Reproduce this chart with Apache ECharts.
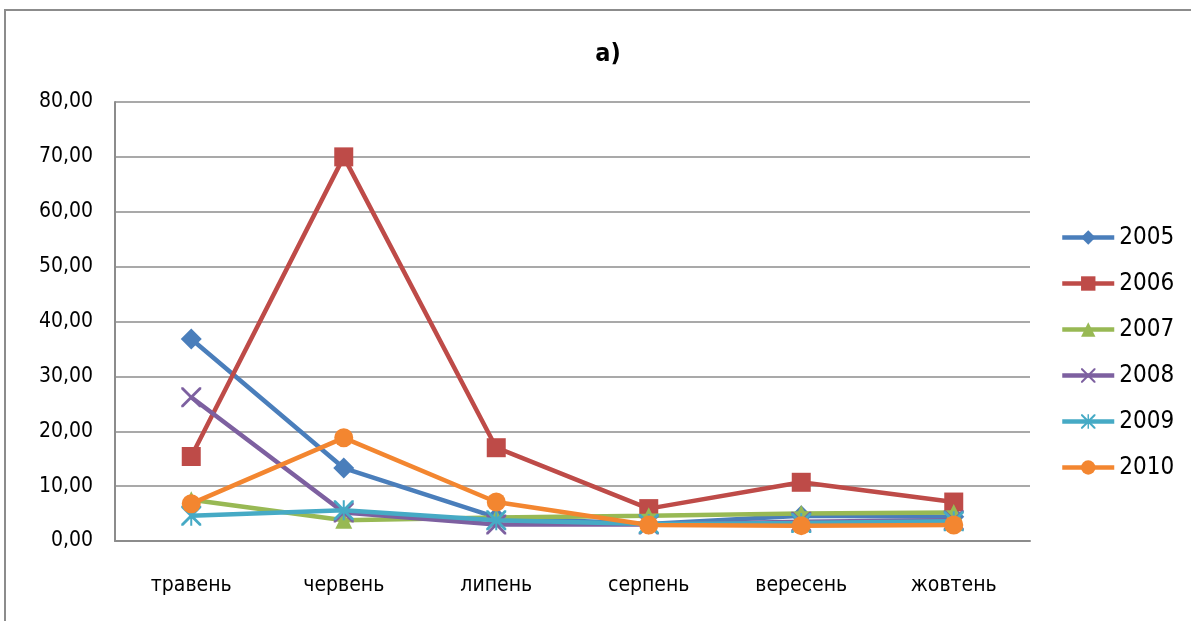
<!DOCTYPE html>
<html><head><meta charset="utf-8">
<script src="https://cdn.jsdelivr.net/npm/echarts@6/dist/echarts.min.js"></script>
<style>html,body{margin:0;padding:0;background:#fff}#c{width:1191px;height:621px}</style>
</head><body><div id="c"></div>
<script>
const months = ['травень','червень','липень','серпень','вересень','жовтень'];
const years = ['2005','2006','2007','2008','2009','2010'];
const v2005 = [36.8, 13.3, 4.3, 3.1, 4.6, 4.4];
const v2006 = [15.4, 70.0, 17.0, 5.9, 10.7, 7.1];
const v2007 = [7.5, 3.8, 4.3, 4.6, 5.0, 5.2];
const v2008 = [26.2, 5.2, 3.0, 3.0, 3.5, 3.8];
const v2009 = [4.6, 5.6, 3.8, 3.1, 3.3, 3.6];
const v2010 = [6.8, 18.8, 7.1, 2.9, 2.8, 2.9];
const yTicks = [0,10,20,30,40,50,60,70,80];

const colors = ['#4A7EBB','#BE4B48','#98B954','#7D60A0','#46AAC5','#F38630'];
const xPath = 'path://M0,0 L1,0 L5,4 L9,0 L10,0 L10,1 L6,5 L10,9 L10,10 L9,10 L5,6 L1,10 L0,10 L0,9 L4,5 L0,1 Z';
const starPath = 'path://M0,0 L1,0 L4.5,3.5 L4.5,0 L5.5,0 L5.5,3.5 L9,0 L10,0 L10,1 L6,5 L10,9 L10,10 L9,10 L5.5,6.5 L5.5,10 L4.5,10 L4.5,6.5 L1,10 L0,10 L0,9 L4,5 L0,1 Z';
const symbols = ['diamond','rect','triangle',xPath,starPath,'circle'];
const sizes = [21,19,17,20,20,19];
const data = [v2005,v2006,v2007,v2008,v2009,v2010];
const FONT = '"Liberation Sans Narrow","DejaVu Sans Condensed",sans-serif';

const chart = echarts.init(document.getElementById('c'), null, {renderer:'canvas'});
chart.setOption({
  animation:false,
  backgroundColor:'#fff',
  graphic:[{type:'rect',shape:{x:5,y:10,width:1300,height:700},style:{fill:'none',stroke:'#8c8c8c',lineWidth:2},silent:true,z:-10}],
  title:{text:'a)',left:603,top:37,textAlign:'center',textStyle:{fontFamily:FONT,fontSize:25,fontWeight:'bold',color:'#000'}},
  legend:{orient:'vertical',left:1055,top:220,itemWidth:52,itemHeight:18,itemGap:21,
    lineStyle:{width:4.5},
    textStyle:{fontFamily:FONT,fontSize:24,color:'#000',lineHeight:25},data:years},
  grid:{left:115,right:161,top:102,bottom:80,containLabel:false},
  xAxis:{type:'category',data:months,boundaryGap:true,
    axisLine:{lineStyle:{color:'#8c8c8c',width:2}},axisTick:{show:false},
    axisLabel:{fontFamily:FONT,fontSize:21,color:'#000',margin:34}},
  yAxis:{type:'value',min:0,max:80,interval:10,
    axisLine:{show:true,lineStyle:{color:'#8c8c8c',width:2}},axisTick:{show:false},
    splitLine:{lineStyle:{color:'#8c8c8c',width:1.5}},
    axisLabel:{fontFamily:FONT,fontSize:21,color:'#000',margin:22,
      formatter:v=>v.toFixed(2).replace('.',',')}},
  series:years.map((y,i)=>({name:y,type:'line',data:data[i],
    symbol:symbols[i],symbolSize:sizes[i],showAllSymbol:true,
    lineStyle:{color:colors[i],width:4.5},
    itemStyle:{color:colors[i],borderWidth:0},z:2+i}))
});
</script></body></html>
